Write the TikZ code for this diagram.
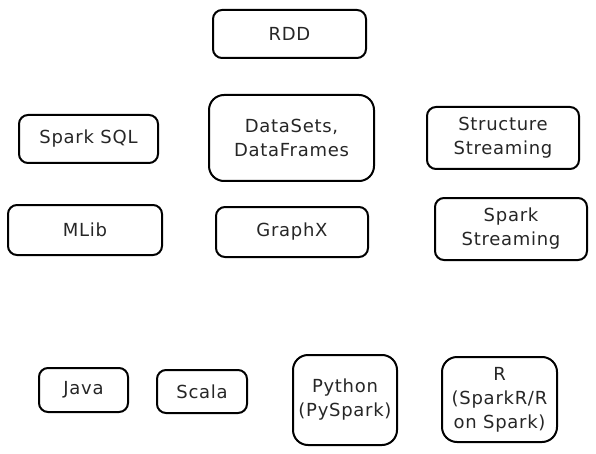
\documentclass[tikz,border=0pt]{standalone}
\usepackage{fontspec}
\setmainfont{DejaVu Sans}[LetterSpace=4]
\begin{document}
\begin{tikzpicture}[x=1pt,y=1pt,
  box/.style={draw=black, line width=2pt, rounded corners=9pt, inner sep=0pt,
    align=center, font=\fontsize{18}{24}\selectfont, text=black!85},
  bigbox/.style={box, rounded corners=15pt}]
\useasboundingbox (0,0) rectangle (596,453);
\node[box, minimum width=153, minimum height=48] (rdd) at (289.5,419) {RDD};
\node[box, minimum width=139, minimum height=48] (sql) at (88.5,314) {Spark SQL};
\node[bigbox, minimum width=165, minimum height=86] (ds) at (291.5,315) {DataSets,\\DataFrames};
\node[box, minimum width=152, minimum height=62] (ss) at (503,315) {Structure\\Streaming};
\node[box, minimum width=154, minimum height=50] (ml) at (85,223) {MLib};
\node[box, minimum width=152, minimum height=50] (gx) at (292,221) {GraphX};
\node[box, minimum width=152, minimum height=62] (sst) at (511,224) {Spark\\Streaming};
\node[box, minimum width=89, minimum height=44] (java) at (83.5,63) {Java};
\node[box, minimum width=90, minimum height=43] (scala) at (202,61.5) {Scala};
\node[bigbox, minimum width=104, minimum height=90] (py) at (345,53) {Python\\(PySpark)};
\node[bigbox, minimum width=115, minimum height=85] (r) at (499.5,53.5) {R\\(SparkR/R\\on Spark)};
\end{tikzpicture}
\end{document}
